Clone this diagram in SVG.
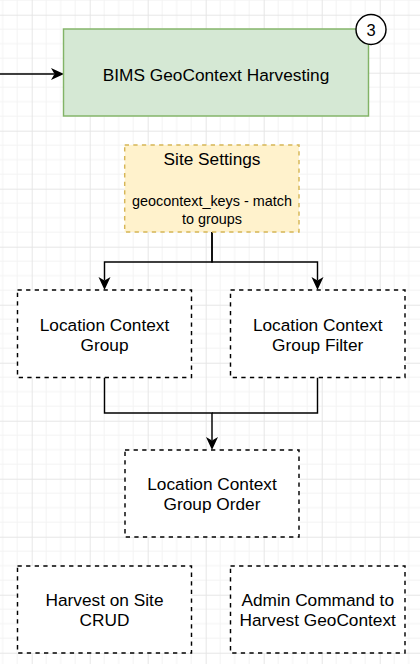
<svg xmlns="http://www.w3.org/2000/svg" width="420" height="664" viewBox="0 0 420 664">
<defs>
<pattern id="grid" patternUnits="userSpaceOnUse" x="31.7" y="14.7" width="58" height="58">
<path d="M14.5,0V58M29,0V58M43.5,0V58M0,14.5H58M0,29H58M0,43.5H58" stroke="#f3f3f3" stroke-width="1" fill="none"/>
<path d="M0.5,0V58M0,0.5H58" stroke="#e6e6e6" stroke-width="1" fill="none"/>
</pattern>
<marker id="arr" viewBox="0 0 13 13" refX="3.5" refY="6.5" markerWidth="13" markerHeight="13" markerUnits="userSpaceOnUse" orient="auto">
<path d="M0,0.5 L13,6.5 L0,12.5 L3.5,6.5 Z" fill="#000"/>
</marker>
</defs>
<style>
text{font-family:"Liberation Sans",Arial,Helvetica,sans-serif;fill:#000;text-anchor:middle}
.big{font-size:17.28px}
.small{font-size:14.4px}
.dash{fill:#fff;stroke:#000;stroke-width:1.44;stroke-dasharray:4.3 4.3}
.edge{fill:none;stroke:#000;stroke-width:1.44}
</style>
<rect width="420" height="664" fill="#fff"/>
<rect width="420" height="664" fill="url(#grid)"/>
<g id="connectors">
<path class="edge" d="M0,74 H54.5" marker-end="url(#arr)"/>
<path class="edge" d="M212,232 V262 H104.5 V280.5" marker-end="url(#arr)"/>
<path class="edge" d="M212,232 V262 H317.5 V280.5" marker-end="url(#arr)"/>
<path class="edge" d="M104.5,377.5 V413 H212 V440.5" marker-end="url(#arr)"/>
<path class="edge" d="M317.5,377.5 V413 H212"/>
</g>
<g id="harvesting">
<rect x="63.5" y="29" width="305" height="87" fill="#d5e8d4" stroke="#82b366" stroke-width="1.44"/>
<text class="big" x="216" y="80.5">BIMS GeoContext Harvesting</text>
</g>
<g id="badge">
<circle cx="371" cy="29.5" r="15" fill="#fff" stroke="#000" stroke-width="1.44"/>
<text x="371" y="36" style="font-size:16.5px">3</text>
</g>
<g id="site-settings">
<rect x="124.7" y="145" width="174.3" height="87" fill="#fff2cc" stroke="#d6b656" stroke-width="1.44" stroke-dasharray="4.3 4.3"/>
<text class="big" x="212" y="165">Site Settings</text>
<text class="small" x="212" y="206.2">geocontext_keys - match</text>
<text class="small" x="212" y="224">to groups</text>
</g>
<g id="lc-group">
<rect class="dash" x="17.5" y="290" width="174" height="87.5"/>
<text class="big" x="104.5" y="331">Location Context</text>
<text class="big" x="104.5" y="350.6">Group</text>
</g>
<g id="lc-group-filter">
<rect class="dash" x="230.5" y="290" width="174.5" height="87.5"/>
<text class="big" x="317.7" y="331">Location Context</text>
<text class="big" x="317.7" y="350.6">Group Filter</text>
</g>
<g id="lc-group-order">
<rect class="dash" x="125" y="450" width="174" height="87"/>
<text class="big" x="212" y="490.3">Location Context</text>
<text class="big" x="212" y="510.2">Group Order</text>
</g>
<g id="harvest-crud">
<rect class="dash" x="17.5" y="566" width="174" height="87"/>
<text class="big" x="104.5" y="606.2">Harvest on Site</text>
<text class="big" x="104.5" y="626">CRUD</text>
</g>
<g id="admin-command">
<rect class="dash" x="230.5" y="566" width="174.5" height="87"/>
<text class="big" x="317.7" y="606.2">Admin Command to</text>
<text class="big" x="317.7" y="626">Harvest GeoContext</text>
</g>
</svg>
